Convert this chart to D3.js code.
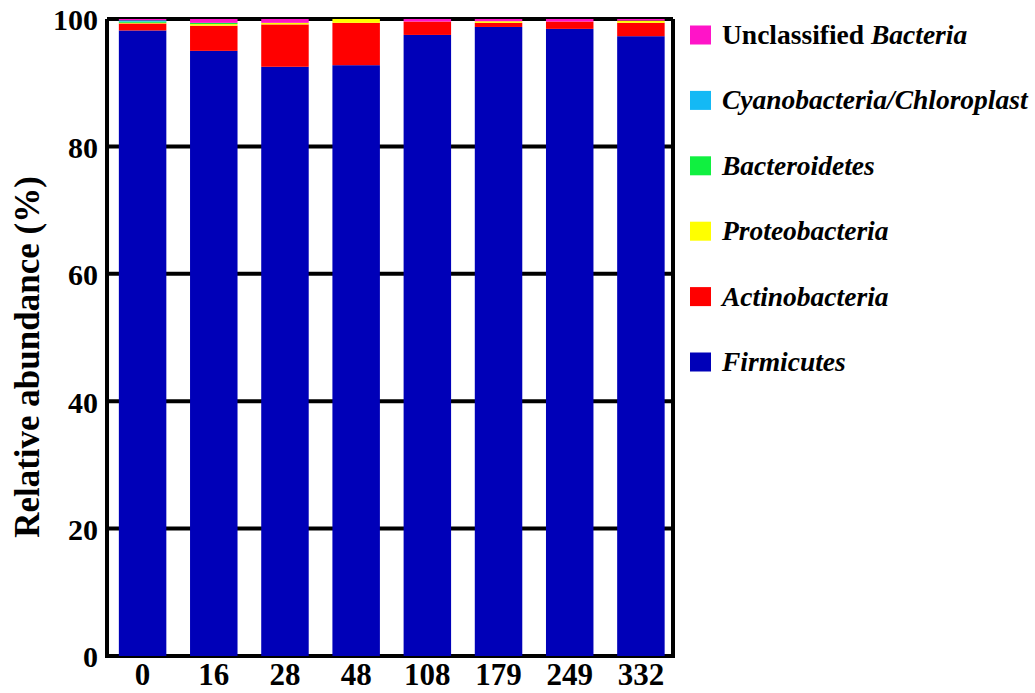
<!DOCTYPE html>
<html>
<head>
<meta charset="utf-8">
<script src="https://cdn.jsdelivr.net/npm/d3@7"></script>
<style>
  html, body { margin: 0; padding: 0; background: #fff; }
  svg text { font-family: "Times New Roman", Times, "Liberation Serif", Tinos, "Noto Serif", "DejaVu Serif", serif; }
</style>
</head>
<body>
<svg id="chart" width="1035" height="693"></svg>
<script>
// Sampling days (x axis)
const days = ["0", "16", "28", "48", "108", "179", "249", "332"];

// Relative abundance (%) of each phylum per sample, bottom to top of the stack
const firmicutes   = [98.2, 95.0, 92.5, 92.75, 97.5, 98.75, 98.45, 97.3];
const actino       = [1.1, 3.95, 6.65, 6.65, 2.1, 0.65, 1.15, 2.1];
const proteo       = [0.1, 0.25, 0.25, 0.6, 0.0, 0.25, 0.0, 0.35];
const bacteroid    = [0.2, 0.2, 0.0, 0.0, 0.0, 0.0, 0.0, 0.0];
const cyano        = [0.2, 0.0, 0.0, 0.0, 0.0, 0.0, 0.0, 0.0];
const unclassified = [0.2, 0.6, 0.6, 0.0, 0.4, 0.35, 0.4, 0.25];

const yTicks = [0, 20, 40, 60, 80, 100];

const seriesDefs = [
  { key: "Firmicutes",   values: firmicutes,   color: "#0000B8", label: [["Firmicutes", true]] },
  { key: "Actinobacteria", values: actino,     color: "#FF0000", label: [["Actinobacteria", true]] },
  { key: "Proteobacteria", values: proteo,     color: "#FFFF00", label: [["Proteobacteria", true]] },
  { key: "Bacteroidetes",  values: bacteroid,  color: "#10F040", label: [["Bacteroidetes", true]] },
  { key: "Cyanobacteria",  values: cyano,      color: "#14B9F5", label: [["Cyanobacteria/Chloroplast", true]] },
  { key: "Unclassified",   values: unclassified, color: "#FF14C8", label: [["Unclassified ", false], ["Bacteria", true]] }
];

const rows = days.map((d, i) => {
  const r = { day: d };
  seriesDefs.forEach(s => { r[s.key] = s.values[i]; });
  return r;
});

const stacked = d3.stack().keys(seriesDefs.map(s => s.key))(rows);

const svg = d3.select("#chart");

const x = d3.scaleBand()
  .domain(days)
  .range([107, 676.5])
  .paddingInner(0.333)
  .paddingOuter(0.1665);

const y = d3.scaleLinear().domain([0, 100]).range([656, 19]);

const plotLeft = 107, plotRight = 673;

// Horizontal grid lines at each tick
svg.append("g")
  .selectAll("line")
  .data(yTicks.filter(t => t > 0))
  .join("line")
  .attr("x1", plotLeft).attr("x2", plotRight)
  .attr("y1", d => y(d)).attr("y2", d => y(d))
  .attr("stroke", "#000").attr("stroke-width", 4);

// Frame: left, bottom, right
svg.append("path")
  .attr("d", `M${plotLeft},${y(100)} V${y(0)} H${plotRight} V${y(100)}`)
  .attr("fill", "none").attr("stroke", "#000").attr("stroke-width", 4)
  .attr("stroke-linejoin", "miter");

// Stacked bars
const layer = svg.append("g")
  .selectAll("g")
  .data(stacked)
  .join("g")
  .attr("fill", (d, i) => seriesDefs[i].color);

layer.selectAll("rect")
  .data(d => d)
  .join("rect")
  .attr("x", d => x(d.data.day))
  .attr("width", x.bandwidth())
  .attr("y", d => y(d[1]))
  .attr("height", d => Math.max(0, y(d[0]) - y(d[1])));

// Y tick labels
svg.append("g")
  .selectAll("text")
  .data(yTicks)
  .join("text")
  .attr("x", 98)
  .attr("y", d => y(d))
  .attr("dy", "0.38em")
  .attr("text-anchor", "end")
  .attr("font-size", 30)
  .attr("font-weight", "bold")
  .text(d => d);

// X tick labels
svg.append("g")
  .selectAll("text")
  .data(days)
  .join("text")
  .attr("x", d => x(d) + x.bandwidth() / 2)
  .attr("y", 685)
  .attr("text-anchor", "middle")
  .attr("font-size", 31)
  .attr("font-weight", "bold")
  .text(d => d);

// Y axis title
svg.append("text")
  .attr("transform", "translate(39,357) rotate(-90)")
  .attr("text-anchor", "middle")
  .attr("font-size", 35)
  .attr("font-weight", "bold")
  .text("Relative abundance (%)");

// Legend, top entry is the top of the stack
const legendItems = seriesDefs.slice().reverse();
const legend = svg.append("g")
  .selectAll("g")
  .data(legendItems)
  .join("g")
  .attr("transform", (d, i) => `translate(690,${35 + i * 65.4})`);

legend.append("rect")
  .attr("x", 0).attr("y", -9.5)
  .attr("width", 21).attr("height", 19)
  .attr("fill", d => d.color);

const lt = legend.append("text")
  .attr("x", 32)
  .attr("y", 9)
  .attr("font-size", 27.5)
  .attr("font-weight", "bold");

lt.selectAll("tspan")
  .data(d => d.label)
  .join("tspan")
  .attr("font-style", d => d[1] ? "italic" : "normal")
  .text(d => d[0]);
</script>
</body>
</html>
